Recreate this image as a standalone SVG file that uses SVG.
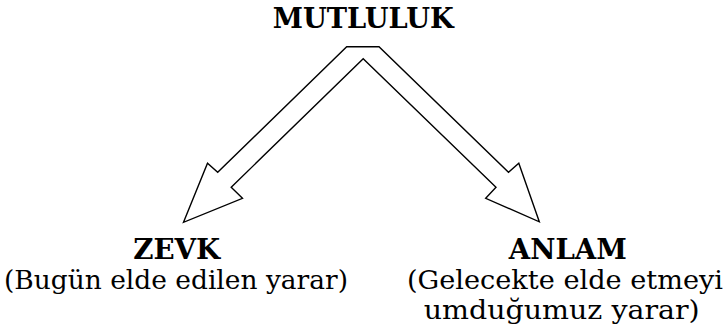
<svg xmlns="http://www.w3.org/2000/svg" width="728" height="331" viewBox="0 0 728 331">
  <style>
    .title { font-family: "DejaVu Serif", "Liberation Serif", serif; font-weight: bold; font-size: 27px; fill: #000; text-anchor: middle; }
    .sub { font-family: "DejaVu Serif", "Liberation Serif", serif; font-size: 26.5px; fill: #000; text-anchor: middle; }
    .branch { fill: #fff; stroke: #000; stroke-width: 1.4; stroke-linejoin: miter; }
  </style>
  <rect width="728" height="331" fill="#fff"/>

  <!-- split block arrow from the top concept down to both outcomes -->
  <g id="connectors">
    <path class="branch" d="M183.5,222.3 L207.5,163.3 L217.7,172.3 L346.7,46.7 L379,46.7 L508.5,172.3 L518.8,163.3 L539.3,221.8 L485.7,198.3 L496,187.3 L363.2,58.7 L231.2,187.3 L242.5,198.3 Z"/>
  </g>

  <g id="mutluluk">
    <text class="title" x="363.3" y="28" textLength="181" lengthAdjust="spacingAndGlyphs">MUTLULUK</text>
  </g>

  <g id="zevk">
    <text class="title" x="176.7" y="259" textLength="87" lengthAdjust="spacingAndGlyphs">ZEVK</text>
    <text class="sub" x="176" y="288.5" textLength="344" lengthAdjust="spacingAndGlyphs">(Bugün elde edilen yarar)</text>
  </g>

  <g id="anlam">
    <text class="title" x="567.8" y="259" textLength="118" lengthAdjust="spacingAndGlyphs">ANLAM</text>
    <text class="sub" x="565" y="288.5" textLength="316" lengthAdjust="spacingAndGlyphs">(Gelecekte elde etmeyi</text>
    <text class="sub" x="561.7" y="318.5" textLength="276" lengthAdjust="spacingAndGlyphs">umduğumuz yarar)</text>
  </g>
</svg>
